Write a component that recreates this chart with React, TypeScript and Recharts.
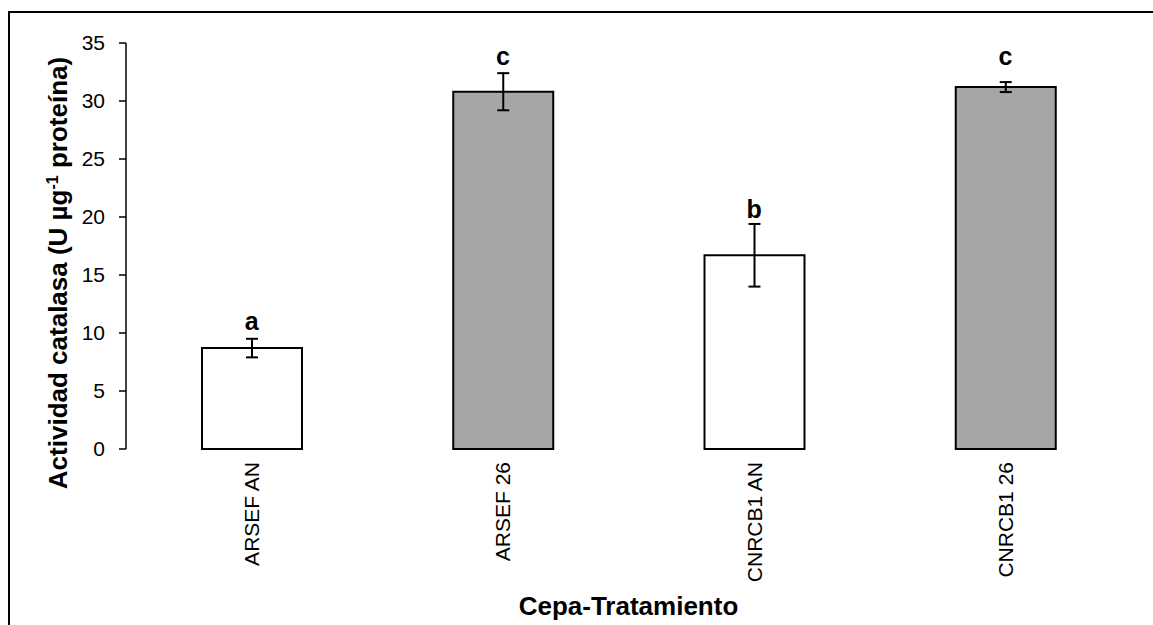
import React from "react";
import {
  ComposedChart,
  Bar,
  Cell,
  ErrorBar,
  Scatter,
  XAxis,
  YAxis,
} from "recharts";

const categories = ["ARSEF AN", "ARSEF 26", "CNRCB1 AN", "CNRCB1 26"];
const activity = [8.7, 30.8, 16.7, 31.2];
const errors = [0.8, 1.6, 2.7, 0.43];
const letters = ["a", "c", "b", "c"];
const letterAt = [10.3, 33.1, 19.9, 33.1];
const yTicks = [0, 5, 10, 15, 20, 25, 30, 35];
const edgeTicks = [0, 1, 2, 3, 4];

const barFills = ["#ffffff", "#a6a6a6", "#ffffff", "#a6a6a6"];

const data = categories.map((name, i) => ({
  name,
  value: activity[i],
  err: errors[i],
  letter: letters[i],
  letterY: letterAt[i],
}));

const FONT = "'Liberation Sans', Arial, sans-serif";

function CategoryTick(props: any) {
  const { x, y, payload } = props;
  return (
    <text
      x={x}
      y={y}
      transform={`rotate(-90, ${x}, ${y})`}
      textAnchor="end"
      dy="0.36em"
      fontSize={21}
      fontFamily={FONT}
      fill="#000"
    >
      {payload.value}
    </text>
  );
}

function LetterMark(props: any) {
  const { cx, cy, payload } = props;
  return (
    <text x={cx} y={cy} textAnchor="middle" fontSize={25} fontWeight="bold" fontFamily={FONT} fill="#000">
      {payload.letter}
    </text>
  );
}

function YTitle(props: any) {
  const vb = props.viewBox || {};
  const cx = 59;
  const cy = (vb.y ?? 35) + (vb.height ?? 406) / 2 + 27;
  return (
    <text
      x={cx}
      y={cy}
      transform={`rotate(-90, ${cx}, ${cy})`}
      textAnchor="middle"
      fontSize={26}
      fontWeight="bold"
      fontFamily={FONT}
      fill="#000"
    >
      Actividad catalasa (U µg
      <tspan dy={-9} fontSize={16}>-1</tspan>
      <tspan dy={9}> proteína)</tspan>
    </text>
  );
}

export default function App() {
  return (
    <div style={{ position: "relative", width: 1153, height: 625, fontFamily: FONT, overflow: "hidden" }}>
      {/* drop the default body margin so the frame can run to the window edges without scrollbars */}
      <style>{"html,body{margin:0;overflow:hidden}"}</style>
      <div
        style={{
          position: "absolute",
          left: 8,
          top: 11,
          width: 1145,
          height: 614,
          borderTop: "2px solid #000",
          borderLeft: "2px solid #000",
          boxSizing: "border-box",
        }}
      />
      <ComposedChart
        width={1145}
        height={617}
        data={data}
        margin={{ top: 35, right: 22, bottom: 0, left: 58 }}
        style={{ position: "absolute", left: 8, top: 8 }}
      >
        <XAxis
          xAxisId="edge"
          type="number"
          domain={[0, 4]}
          ticks={edgeTicks}
          height={0}
          tick={false}
          tickSize={7}
          axisLine={{ stroke: "#000", strokeWidth: 1.5 }}
          tickLine={{ stroke: "#000", strokeWidth: 1.5 }}
        />
        <XAxis
          xAxisId="cat"
          dataKey="name"
          type="category"
          height={176}
          axisLine={false}
          tickLine={false}
          tickSize={0}
          tickMargin={13}
          interval={0}
          tick={<CategoryTick />}
          label={{
            value: "Cepa-Tratamiento",
            position: "insideBottom",
            offset: 10,
            fontSize: 26,
            fontWeight: "bold",
            fill: "#000",
            fontFamily: FONT,
          }}
        />
        <YAxis
          domain={[0, 35]}
          ticks={yTicks}
          width={60}
          tickSize={7}
          tickMargin={14}
          interval={0}
          axisLine={{ stroke: "#000", strokeWidth: 1.5 }}
          tickLine={{ stroke: "#000", strokeWidth: 1.5 }}
          tick={{ fontSize: 21, fill: "#000", fontFamily: FONT }}
          label={<YTitle />}
        />
        <Bar
          xAxisId="cat"
          dataKey="value"
          barSize={100}
          stroke="#000"
          strokeWidth={2}
          isAnimationActive={false}
        >
          {data.map((d, i) => (
            <Cell key={d.name} fill={barFills[i]} />
          ))}
          <ErrorBar dataKey="err" width={6} stroke="#000" strokeWidth={2} direction="y" />
        </Bar>
        <Scatter
          xAxisId="cat"
          dataKey="letterY"
          shape={<LetterMark />}
          isAnimationActive={false}
        />
      </ComposedChart>
    </div>
  );
}
